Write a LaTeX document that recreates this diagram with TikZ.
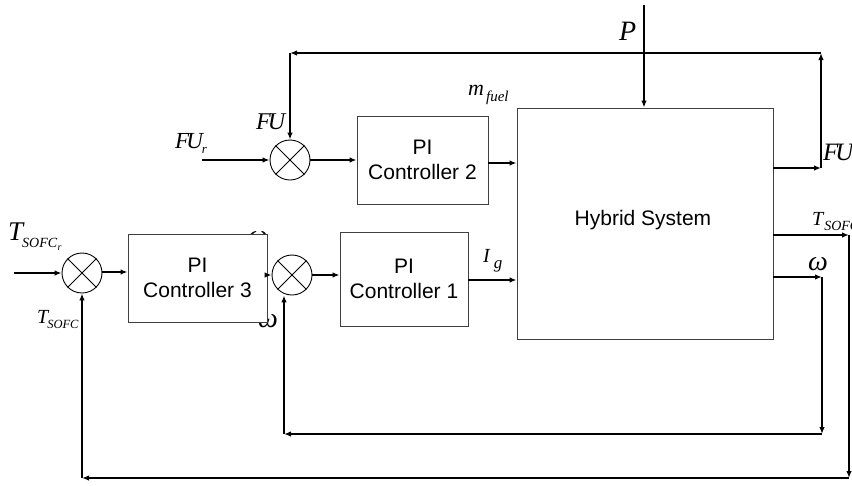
\documentclass[tikz,border=0pt]{standalone}
\usepackage{fontspec}
\setmainfont{Liberation Sans}
\newfontfamily\tnr{Liberation Serif}
\usetikzlibrary{arrows.meta}
\newcommand\Lf[1]{\fontsize{#1}{#1}\tnr\itshape}
\begin{document}
\begin{tikzpicture}[x=1pt,y=-1pt,
  box/.style={draw=black!75, line width=0.9pt, fill=white, align=center,
    inner sep=0pt, font=\fontsize{21}{25}\selectfont},
  sum/.style={draw, circle, minimum size=40pt, inner sep=0pt, line width=0.9pt},
  conn/.style={line width=1.4pt, -{Latex[length=7pt,width=5.5pt]}},
  lab/.style={inner sep=0pt, anchor=base west}]
\useasboundingbox (0,0) rectangle (852,485);
\clip (0,0) rectangle (852,485);

% labels partly hidden behind box 3
\node[lab] (wA) at (248,244) {\Lf{28}ω};
\node[lab] (wB) at (258,327) {\Lf{28}ω};

% blocks
\node[box, minimum width=139pt, minimum height=88pt] (b3) at (197.5,278) {PI\\Controller 3};
\node[box, minimum width=128pt, minimum height=94pt] (b1) at (404,279) {PI\\Controller 1};
\node[box, minimum width=131pt, minimum height=88pt] (b2) at (422.5,160) {PI\\Controller 2};
\node[box, minimum width=256pt, minimum height=231pt] (hy) at (645,223.5) {};
\node[inner sep=0pt, font=\fontsize{21}{25}\selectfont] (hyt) at (643,220) {Hybrid System};

% summing junctions
\node[sum] (c1) at (290,160) {};
\draw[line width=0.9pt] (c1.north west) -- (c1.south east) (c1.north east) -- (c1.south west);
\node[sum] (c2) at (292,275) {};
\draw[line width=0.9pt] (c2.north west) -- (c2.south east) (c2.north east) -- (c2.south west);
\node[sum] (c3) at (82,273) {};
\draw[line width=0.9pt] (c3.north west) -- (c3.south east) (c3.north east) -- (c3.south west);

% free ends and corners
\coordinate (fuR) at (202,160);
\coordinate (tin) at (14,273);
\coordinate (ptop) at (644,5);
\coordinate (fuo) at (821,168);
\coordinate (fut) at (821,53);
\coordinate (ful) at (290,53);
\coordinate (w1) at (822,277);
\coordinate (w2) at (822,434);
\coordinate (w3) at (284,434);
\coordinate (ts1) at (849,235);
\coordinate (ts2) at (849,478);
\coordinate (ts3) at (82,478);

% forward path
\draw[conn] (fuR) -- (c1.west);
\draw[conn] (c1.east) -- (b2.west);
\draw[conn] ([yshift=-3pt]b2.east) -- ([yshift=-3pt]b2.east -| hy.west);
\draw[conn] (tin) -- (c3.west);
\draw[conn] ([yshift=1pt]c3.east) -- ([yshift=1pt]c3.east -| b3.west);
\draw[conn] (c2.west -| b3.east) -- (c2.west);
\draw[conn] (c2.east) -- (c2.east -| b1.west);
\draw[conn] ([yshift=-1pt]b1.east) -- ([yshift=-1pt]b1.east -| hy.west);
\draw[conn] (ptop) -- (ptop |- hy.north);

% FU feedback
\draw[conn] (fuo -| hy.east) -- (fuo);
\draw[conn] (fuo) -- (fut);
\draw[conn] (fut) -- (ful);
\draw[conn] (ful) -- (c1.north);

% omega feedback
\draw[conn] (w1 -| hy.east) -- (w1);
\draw[conn] (w1) -- (w2);
\draw[conn] (w2) -- (w3);
\draw[conn] (w3) -- (w3 |- c2.south);

% T_SOFC feedback
\draw[conn] (ts1 -| hy.east) -- (ts1);
\draw[conn] (ts1) -- (ts2);
\draw[conn] (ts2) -- (ts3);
\draw[conn] (ts3) -- (c3.south);

% labels
\node[lab] (lTr) at (8,240) {\Lf{27}T\kern-1pt\raisebox{-7pt}{\Lf{14}SOFC\kern0.5pt\raisebox{-3pt}{\Lf{10}r}}};
\node[lab] (lTs) at (37,323) {\Lf{20}T\kern-1pt\raisebox{-5pt}{\Lf{12.5}SOFC}};
\node[lab] (lFUr) at (175,148) {\Lf{23}F\kern-3pt U\kern-1pt\raisebox{-5pt}{\Lf{13}r}};
\node[lab] (lFU1) at (256,129) {\Lf{24}F\kern-3pt U};
\node[lab] (lmf) at (468,95) {\Lf{22}m\kern2pt\raisebox{-6pt}{\Lf{15}fuel}};
\node[lab] (lP) at (619,40) {\Lf{28}P};
\node[lab] (lFU2) at (823,160) {\Lf{25}F\kern-3pt U};
\node[lab] (lTs2) at (812,225) {\Lf{20}T\kern1pt\raisebox{-5pt}{\Lf{14}SOFC}};
\node[lab] (lw) at (808,270) {\Lf{28}ω};
\node[lab] (lIg) at (483,262) {\Lf{20}I\kern4pt\raisebox{-6pt}{\Lf{17}g}};
\end{tikzpicture}
\end{document}
